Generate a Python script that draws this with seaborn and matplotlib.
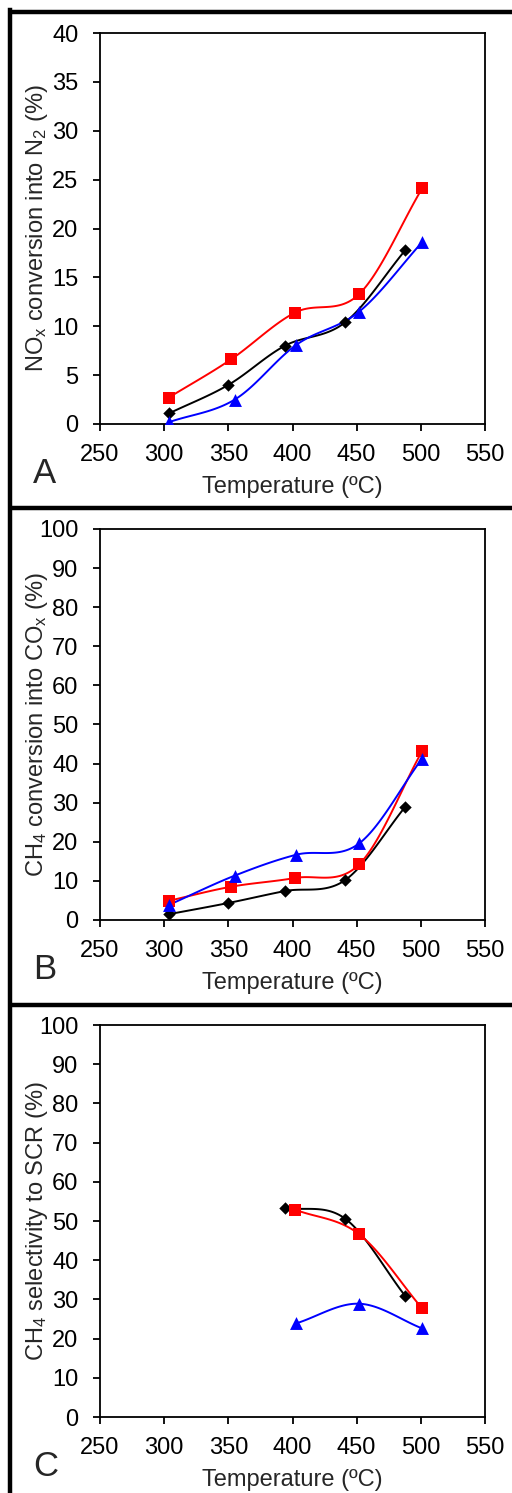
import numpy as np
import pandas as pd
import matplotlib
matplotlib.use("Agg")
import matplotlib.pyplot as plt
from matplotlib.lines import Line2D
import seaborn as sns

# ---------------- data ----------------
temp_black = [304, 350, 394, 441, 488]
temp_red = [303.5, 352, 402, 452, 501]
temp_blue = [304, 355, 403, 452, 501]

noxA_black = [1.1, 4.0, 8.0, 10.4, 17.8]
noxA_red = [2.7, 6.6, 11.4, 13.3, 24.1]
noxA_blue = [0.2, 2.5, 8.1, 11.5, 18.6]

ch4B_black = [1.5, 4.35, 7.4, 10.2, 29.0]
ch4B_red = [4.9, 8.5, 10.75, 14.25, 43.2]
ch4B_blue = [3.9, 11.35, 16.7, 19.6, 41.3]

tempC_black = [394, 441, 488]
tempC_red = [402, 452, 501]
tempC_blue = [403, 452, 501]
selC_black = [53.4, 50.6, 30.8]
selC_red = [52.9, 46.6, 27.7]
selC_blue = [23.9, 28.9, 22.6]

x_ticks = [250, 300, 350, 400, 450, 500, 550]
ylabels = [r"NO$_x$ conversion into N$_2$ (%)",
           r"CH$_4$ conversion into CO$_x$ (%)",
           r"CH$_4$ selectivity to SCR (%)"]
xlabel = "Temperature (ºC)"
letters = ["A", "B", "C"]

# ---------------- style ----------------
sns.set_style("ticks")
plt.rcParams["font.family"] = ["Liberation Sans", "DejaVu Sans"]
plt.rcParams["mathtext.fontset"] = "custom"
plt.rcParams["mathtext.rm"] = "Liberation Sans"
plt.rcParams["mathtext.it"] = "Liberation Sans:italic"
plt.rcParams["mathtext.default"] = "regular"

FS = 17


def smooth(x, y, n=30):
    """Catmull-Rom curve through the points (Excel-like smoothed line)."""
    x = np.asarray(x, float)
    y = np.asarray(y, float)
    P = np.column_stack([x, y])
    P = np.vstack([P[0] - (P[1] - P[0]), P, P[-1] + (P[-1] - P[-2])])
    out = []
    for i in range(1, len(P) - 2):
        p0, p1, p2, p3 = P[i - 1], P[i], P[i + 1], P[i + 2]
        t = np.linspace(0, 1, n)[:, None]
        c = 0.5 * ((2 * p1) + (-p0 + p2) * t + (2 * p0 - 5 * p1 + 4 * p2 - p3) * t ** 2
                   + (-p0 + 3 * p1 - 3 * p2 + p3) * t ** 3)
        out.append(c if i == len(P) - 3 else c[:-1])
    c = np.vstack(out)
    return c[:, 0], c[:, 1]


W, H = 512, 1493
fig = plt.figure(figsize=(W / 100, H / 100), dpi=100)

panels = [
    dict(top=33, bottom=424, ymax=40, ystep=5,
         series=[(temp_black, noxA_black), (temp_red, noxA_red), (temp_blue, noxA_blue)],
         letter_base=483),
    dict(top=529, bottom=920, ymax=100, ystep=10,
         series=[(temp_black, ch4B_black), (temp_red, ch4B_red), (temp_blue, ch4B_blue)],
         letter_base=979),
    dict(top=1025, bottom=1417, ymax=100, ystep=10,
         series=[(tempC_black, selC_black), (tempC_red, selC_red), (tempC_blue, selC_blue)],
         letter_base=1476),
]

styles = [
    dict(color="#000000", marker="D", s=40),
    dict(color="#FF0000", marker="s", s=76),
    dict(color="#0000FF", marker="^", s=86),
]

for k, p in enumerate(panels):
    ax = fig.add_axes([100 / W, 1 - p["bottom"] / H, 385 / W, (p["bottom"] - p["top"]) / H])
    for (xs, ys), st in zip(p["series"], styles):
        sx, sy = smooth(xs, ys)
        sns.lineplot(x=sx, y=sy, ax=ax, sort=False, estimator=None,
                     color=st["color"], linewidth=1.4, legend=False)
        sns.scatterplot(x=xs, y=ys, ax=ax, color=st["color"], marker=st["marker"],
                        s=st["s"], linewidth=0, legend=False, zorder=3)
    ax.set_xlim(250, 550)
    ax.set_ylim(0, p["ymax"])
    ax.set_xticks(x_ticks)
    ax.set_yticks(np.arange(0, p["ymax"] + 0.1, p["ystep"]))
    ax.tick_params(axis="both", direction="out", length=5, width=1.3,
                   labelsize=FS, color="black", labelcolor="black")
    ax.tick_params(axis="x", pad=9.5)
    ax.tick_params(axis="y", pad=10.5)
    for sp in ax.spines.values():
        sp.set_visible(True)
        sp.set_linewidth(1.3)
        sp.set_color("black")
    ax.set_xlabel(xlabel, fontsize=FS)
    ax.set_ylabel(ylabels[k], fontsize=FS)
    ax.xaxis.set_label_coords(0.5, -0.132)
    ax.yaxis.set_label_coords(-0.13, 0.5)
    ax.grid(False)
    fig.text(33 / W, 1 - p["letter_base"] / H, letters[k], fontsize=25,
             ha="left", va="baseline")

# panel frame lines
lw = 3.2
fig.add_artist(Line2D([10 / W, 10 / W], [0, 1 - 10 / H], color="black", linewidth=lw,
                      solid_capstyle="projecting"))
for yy in [12, 507.5, 1005]:
    fig.add_artist(Line2D([10 / W, 1], [1 - yy / H, 1 - yy / H], color="black",
                          linewidth=lw, solid_capstyle="butt"))

fig.savefig("out.png", dpi=100, facecolor="white")
